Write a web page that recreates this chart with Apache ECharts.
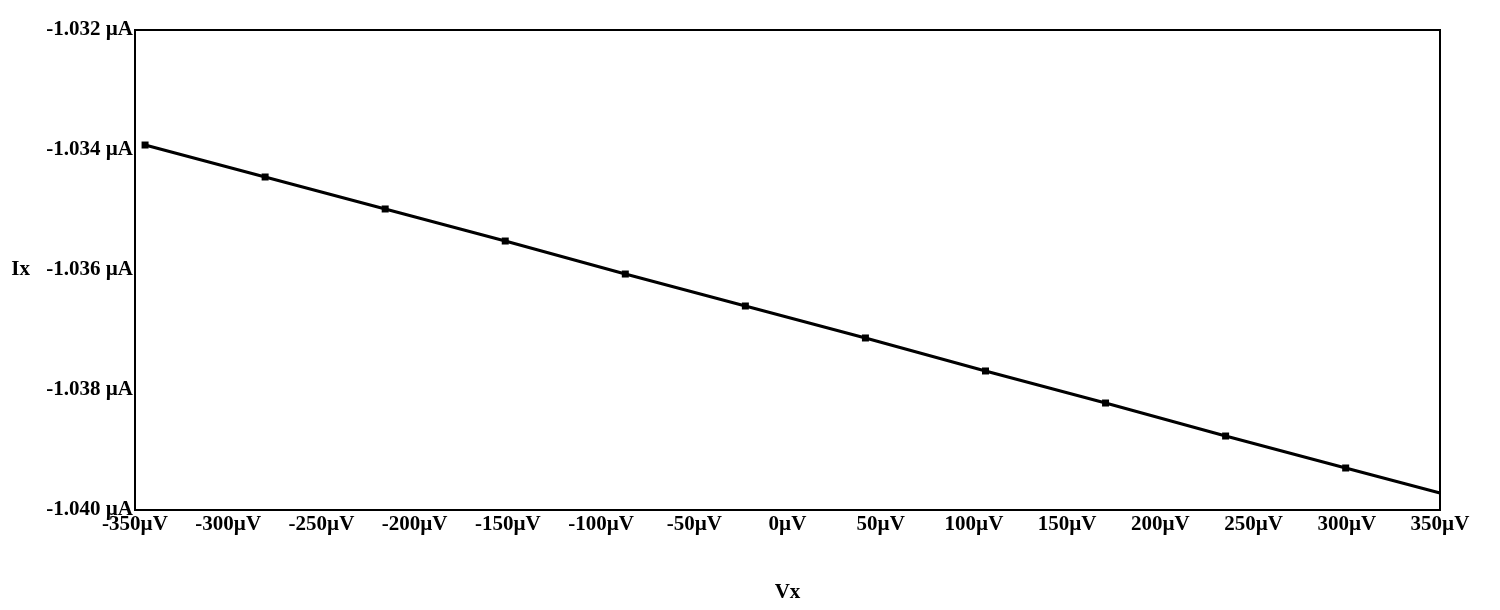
<!DOCTYPE html>
<html>
<head>
<meta charset="utf-8">
<script src="https://cdn.jsdelivr.net/npm/echarts@6/dist/echarts.min.js"></script>
<style>html,body{margin:0;background:#fff}#chart{width:1500px;height:610px}</style>
</head>
<body>
<div id="chart"></div>
<script>
// sweep points (Vx in µV, Ix in µA)
var vx = [-344.6, -280.2, -215.8, -151.4, -87.0, -22.6, 41.8, 106.2, 170.6, 235.0, 299.4, 350];
var ix = [-1.033917, -1.03445, -1.034983, -1.035517, -1.036067, -1.0366, -1.037133, -1.037683, -1.038217, -1.038767, -1.0393, -1.039717];

var pts = [];
for (var i = 0; i < vx.length; i++) {
    var p = {value: [vx[i], ix[i]]};
    if (i == vx.length - 1) p.symbol = 'none';
    pts.push(p);
}

var font = {fontFamily: 'Liberation Serif', fontWeight: 'bold', fontSize: 21, color: '#000'};

var chart = echarts.init(document.getElementById('chart'));
chart.setOption({
    animation: false,
    grid: {left: 135, right: 60, top: 30, bottom: 100, show: true, borderColor: '#000', borderWidth: 2},
    xAxis: {
        type: 'value', min: -350, max: 350, interval: 50,
        name: 'Vx', nameLocation: 'middle', nameGap: 72,
        nameTextStyle: font,
        axisLine: {onZero: false, lineStyle: {color: '#000', width: 2}},
        axisTick: {show: false},
        splitLine: {show: false},
        axisLabel: Object.assign({margin: 4, formatter: function (v) { return v + 'µV'; }}, font)
    },
    yAxis: {
        type: 'value', min: -1.040, max: -1.032, interval: 0.002,
        name: 'Ix', nameLocation: 'middle', nameGap: 105, nameRotate: 0,
        nameTextStyle: font,
        axisLine: {onZero: false, lineStyle: {color: '#000', width: 2}},
        axisTick: {show: false},
        splitLine: {show: false},
        axisLabel: Object.assign({margin: 2, formatter: function (v) { return v.toFixed(3) + ' µA'; }}, font)
    },
    series: [{
        type: 'line',
        data: pts,
        symbol: 'rect', symbolSize: 7,
        itemStyle: {color: '#000'},
        lineStyle: {color: '#000', width: 3}
    }]
});
</script>
</body>
</html>
